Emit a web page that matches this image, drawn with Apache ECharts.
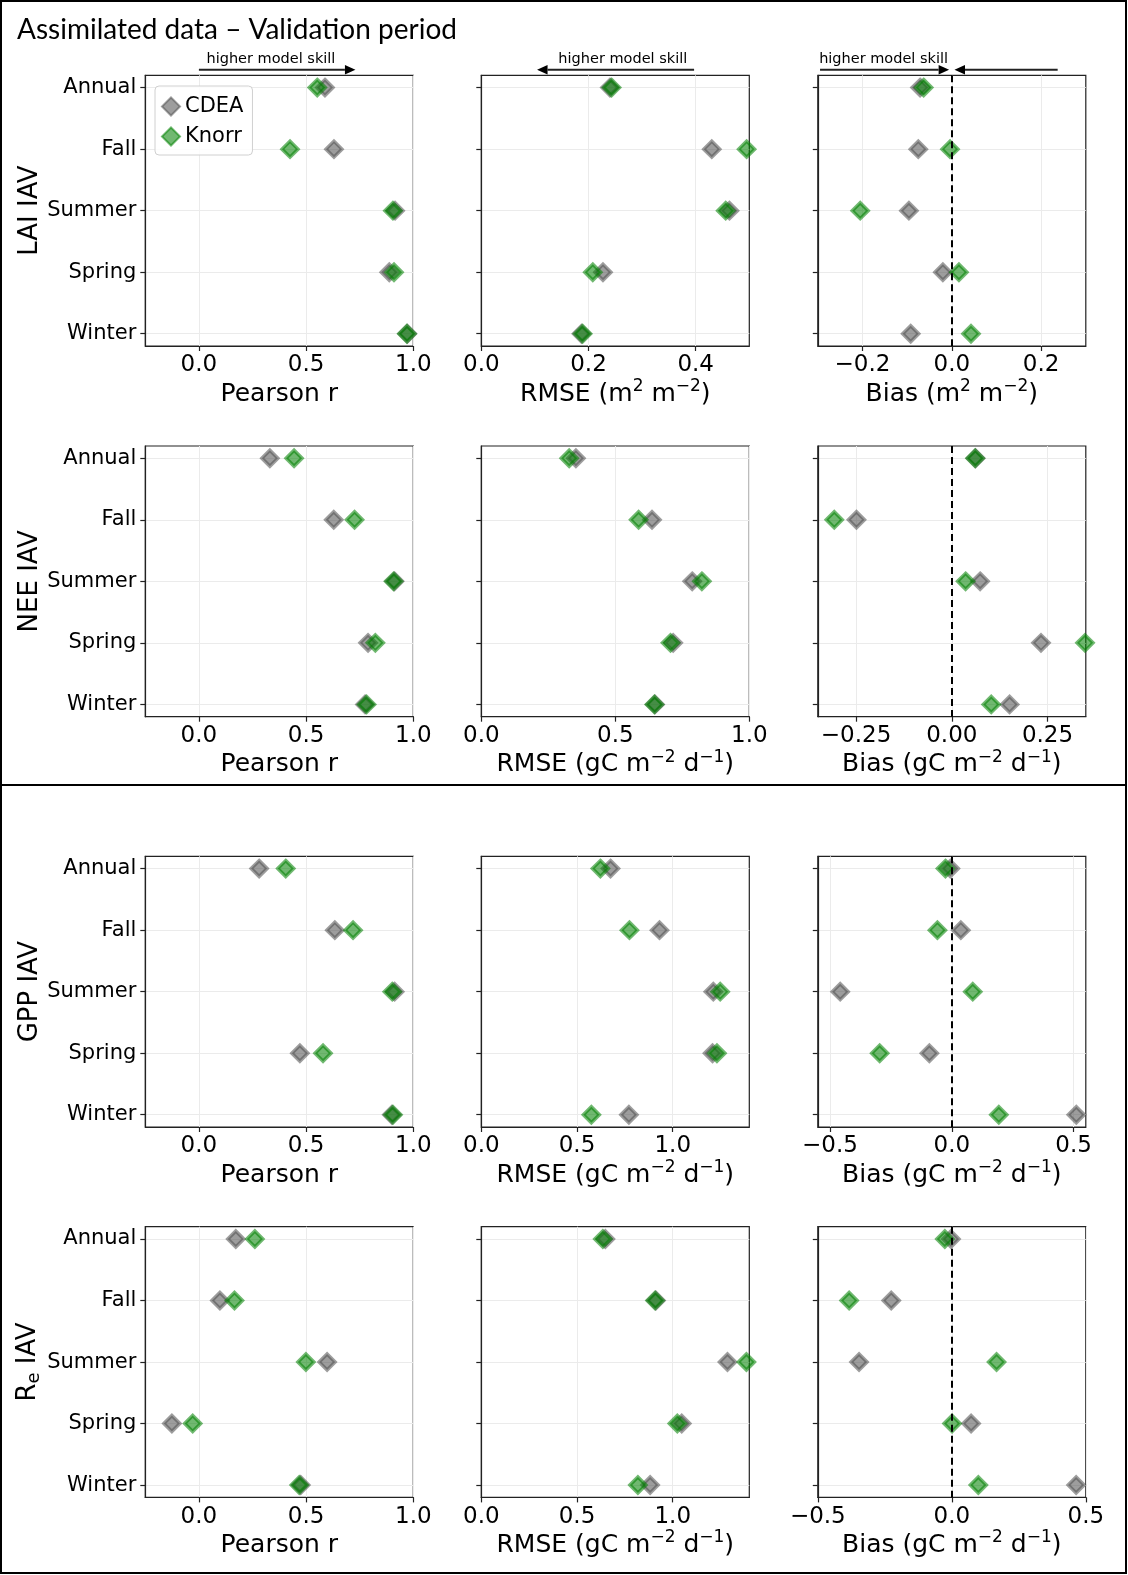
<!DOCTYPE html>
<html><head><meta charset="utf-8">
<script src="https://cdn.jsdelivr.net/npm/echarts@6/dist/echarts.min.js"></script>
<style>html,body{margin:0;padding:0;background:#fff}#c{width:1128px;height:1575px}</style>
</head><body><div id="c"></div>
<script>
// ---------------- DATA ----------------
const categories = ['Annual', 'Fall', 'Summer', 'Spring', 'Winter'];
const seriesNames = ['CDEA', 'Knorr'];
const rowNames = ['LAI IAV', 'NEE IAV', 'GPP IAV', 'R{sub|e} IAV'];

// LAI IAV
const laiPearsonCDEA  = [0.588, 0.630, 0.915, 0.888, 0.972];
const laiPearsonKnorr = [0.552, 0.425, 0.905, 0.910, 0.970];
const laiRmseCDEA     = [0.240, 0.430, 0.463, 0.227, 0.187];
const laiRmseKnorr    = [0.243, 0.495, 0.456, 0.208, 0.189];
const laiBiasCDEA     = [-0.071, -0.075, -0.096, -0.020, -0.092];
const laiBiasKnorr    = [-0.063, -0.004, -0.205, 0.016, 0.043];

// NEE IAV
const neePearsonCDEA  = [0.331, 0.629, 0.912, 0.789, 0.775];
const neePearsonKnorr = [0.444, 0.726, 0.908, 0.823, 0.782];
const neeRmseCDEA     = [0.353, 0.637, 0.787, 0.716, 0.648];
const neeRmseKnorr    = [0.328, 0.587, 0.823, 0.706, 0.646];
const neeBiasCDEA     = [0.062, -0.249, 0.074, 0.233, 0.151];
const neeBiasKnorr    = [0.061, -0.307, 0.036, 0.348, 0.103];

// GPP IAV
const gppPearsonCDEA  = [0.281, 0.634, 0.913, 0.471, 0.900];
const gppPearsonKnorr = [0.405, 0.719, 0.902, 0.579, 0.905];
const gppRmseCDEA     = [0.675, 0.931, 1.212, 1.208, 0.771];
const gppRmseKnorr    = [0.622, 0.774, 1.248, 1.231, 0.575];
const gppBiasCDEA     = [-0.006, 0.037, -0.458, -0.092, 0.511];
const gppBiasKnorr    = [-0.026, -0.059, 0.086, -0.296, 0.193];

// Re IAV
const rePearsonCDEA   = [0.172, 0.098, 0.598, -0.126, 0.475];
const rePearsonKnorr  = [0.261, 0.166, 0.499, -0.029, 0.468];
const reRmseCDEA      = [0.648, 0.912, 1.286, 1.047, 0.882];
const reRmseKnorr     = [0.635, 0.908, 1.385, 1.024, 0.818];
const reBiasCDEA      = [-0.003, -0.226, -0.346, 0.072, 0.464];
const reBiasKnorr     = [-0.026, -0.383, 0.167, 0.001, 0.099];

// axis ranges and tick labels
const pearsonRange = [-0.25, 1.0];
const pearsonTicks = [0, 0.5, 1.0];
const rmseRanges = [[0, 0.5], [0, 1.0], [0, 1.4], [0, 1.4]];
const rmseTicks  = [[0, 0.2, 0.4], [0, 0.5, 1.0], [0, 0.5, 1.0], [0, 0.5, 1.0]];
const biasRanges = [[-0.3, 0.3], [-0.35, 0.35], [-0.55, 0.55], [-0.5, 0.5]];
const biasTicks  = [[-0.2, 0, 0.2], [-0.25, 0, 0.25], [-0.5, 0, 0.5], [-0.5, 0, 0.5]];
const biasDecimals = [1, 2, 1, 1];
const laiUnit = 'm{sup|2} m{sup|\u22122}';
const carbonUnit = 'gC m{sup|\u22122} d{sup|\u22121}';

// ---------------- LAYOUT ----------------
const FONT = 'DejaVu Sans';
const colLefts = [145.3, 481.3, 817.8];
const rowTops = [75.3, 446, 856.3, 1226.7];
const GW = 268, GH = 270.7;
const cdeaColor = 'rgba(80,80,80,0.7)';
const knorrColor = 'rgba(0,128,0,0.7)';

const dataRows = [
  [[laiPearsonCDEA, laiPearsonKnorr], [laiRmseCDEA, laiRmseKnorr], [laiBiasCDEA, laiBiasKnorr]],
  [[neePearsonCDEA, neePearsonKnorr], [neeRmseCDEA, neeRmseKnorr], [neeBiasCDEA, neeBiasKnorr]],
  [[gppPearsonCDEA, gppPearsonKnorr], [gppRmseCDEA, gppRmseKnorr], [gppBiasCDEA, gppBiasKnorr]],
  [[rePearsonCDEA, rePearsonKnorr], [reRmseCDEA, reRmseKnorr], [reBiasCDEA, reBiasKnorr]]
];

function fmt(dec) {
  return function (v) {
    let s = Math.abs(v).toFixed(dec);
    return (v < -1e-9 ? '\u2212' : '') + s;
  };
}
const supRich = {
  sup: { fontSize: 17, fontFamily: FONT, color: '#000', verticalAlign: 'top', lineHeight: 17 }
};

const grids = [], xAxes = [], yAxes = [], series = [];
for (let r = 0; r < 4; r++) {
  for (let c = 0; c < 3; c++) {
    const g = r * 3 + c;
    grids.push({ left: colLefts[c], top: rowTops[r], width: GW, height: GH,
      show: true, borderColor: '#222', borderWidth: 1.2, backgroundColor: 'transparent' });
    let range, ticks, dec, name;
    if (c === 0) { range = pearsonRange; ticks = pearsonTicks; dec = 1; name = 'Pearson r'; }
    else if (c === 1) { range = rmseRanges[r]; ticks = rmseTicks[r]; dec = 1;
      name = 'RMSE (' + (r === 0 ? laiUnit : carbonUnit) + ')'; }
    else { range = biasRanges[r]; ticks = biasTicks[r]; dec = biasDecimals[r];
      name = 'Bias (' + (r === 0 ? laiUnit : carbonUnit) + ')'; }
    xAxes.push({
      gridIndex: g, type: 'value', min: range[0], max: range[1],
      axisLine: { show: true, onZero: false, lineStyle: { color: '#222', width: 1.2 } },
      axisTick: { show: true, length: 5, customValues: ticks, lineStyle: { color: '#222', width: 1.2 } },
      axisLabel: { customValues: ticks, formatter: fmt(dec), fontSize: 23, color: '#000', fontFamily: FONT, margin: 8 },
      splitLine: { show: true, lineStyle: { color: '#ebebeb', width: 1 } },
      name: name, nameLocation: 'middle', nameGap: 32,
      nameTextStyle: { fontSize: 25, lineHeight: 32, color: '#000', fontFamily: FONT, rich: supRich }
    });
    const yAx = {
      gridIndex: g, type: 'value', min: -0.2, max: 4.2, inverse: true,
      axisLine: { show: true, onZero: false, lineStyle: { color: '#222', width: 1.2 } },
      axisTick: { show: true, length: 5, customValues: [0, 1, 2, 3, 4], lineStyle: { color: '#222', width: 1.2 } },
      axisLabel: { show: c === 0, customValues: [0, 1, 2, 3, 4], formatter: v => categories[Math.round(v)],
        fontSize: 21, color: '#000', fontFamily: FONT, margin: 9, padding: [7, 0, 0, 0] },
      splitLine: { show: true, lineStyle: { color: '#ebebeb', width: 1 } }
    };
    if (c === 0) {
      Object.assign(yAx, { name: rowNames[r], nameLocation: 'middle', nameGap: 102, nameRotate: 90,
        nameTextStyle: { fontSize: 26, color: '#000', fontFamily: FONT,
          rich: { sub: { fontSize: 18, fontFamily: FONT, color: '#000', verticalAlign: 'bottom', lineHeight: 30 } } } });
    }
    yAxes.push(yAx);
    const pair = dataRows[r][c];
    [cdeaColor, knorrColor].forEach((col, k) => {
      series.push({
        type: 'scatter', name: seriesNames[k], xAxisIndex: g, yAxisIndex: g,
        data: pair[k].map((v, i) => [v, i]),
        symbol: 'diamond', symbolSize: 16, z: 3 + k,
        itemStyle: { color: col, borderColor: col, borderWidth: 3.5 },
        emphasis: { disabled: true }, animation: false
      });
    });
    if (c === 2) {
      series.push({
        type: 'scatter', xAxisIndex: g, yAxisIndex: g, data: [], z: 6, silent: true,
        markLine: { silent: true, symbol: 'none', animation: false,
          label: { show: false },
          lineStyle: { type: [7, 4], color: '#000', width: 2 },
          data: [{ xAxis: 0 }] }
      });
    }
  }
}

const chart = echarts.init(document.getElementById('c'), null, { renderer: 'canvas' });
chart.setOption({
  animation: false,
  backgroundColor: '#fff',
  title: { text: 'Assimilated data \u2013 Validation period', left: 12, top: 11,
    textStyle: { fontFamily: 'Lato', fontSize: 28, fontWeight: 'normal', color: '#000' } },
  legend: {
    data: seriesNames, orient: 'vertical', left: 155, top: 86,
    itemWidth: 18, itemHeight: 18, itemGap: 9, itemTextGap: 19,
    padding: [10, 9, 8, 6], borderColor: '#d0d0d0', borderWidth: 1, borderRadius: 4,
    backgroundColor: 'rgba(255,255,255,0.85)',
    textStyle: { fontSize: 21, color: '#000', fontFamily: FONT }, selectedMode: false
  },
  grid: grids, xAxis: xAxes, yAxis: yAxes, series: series
});

// annotations: frames and "higher model skill" arrows (positions via axis scales)
const arrowSpecs = [
  { axis: 0, text: 0.336, align: 'center', arrows: [[0, 0.73]] },
  { axis: 1, text: 0.264, align: 'center', arrows: [[0.397, 0.104]] },
  { axis: 2, text: -0.297, align: 'left', arrows: [[-0.295, -0.006], [0.237, 0.006]] }
];
const graphics = [
  { type: 'rect', shape: { x: 1, y: 1, width: 1125, height: 784 }, style: { fill: 'none', stroke: '#000', lineWidth: 2 }, z: 100 },
  { type: 'rect', shape: { x: 1, y: 785, width: 1125, height: 788 }, style: { fill: 'none', stroke: '#000', lineWidth: 2 }, z: 100 }
];
const lineY = rowTops[0] - 5.5, textY = rowTops[0] - 16;
arrowSpecs.forEach(sp => {
  const px = v => chart.convertToPixel({ xAxisIndex: sp.axis }, v);
  graphics.push({ type: 'text', x: px(sp.text), y: textY, z: 100,
    style: { text: 'higher model skill', fontFamily: FONT, fontSize: 14.5, fill: '#000',
      textAlign: sp.align, textVerticalAlign: 'middle' } });
  sp.arrows.forEach(a => {
    const x0 = px(a[0]), x1 = px(a[1]);
    const dir = x1 > x0 ? 1 : -1;
    const base = x1 - dir * 10.5;
    graphics.push({ type: 'line', z: 100, shape: { x1: x0, y1: lineY, x2: base, y2: lineY },
      style: { stroke: '#222', lineWidth: 2 } });
    graphics.push({ type: 'polygon', z: 100, shape: { points: [[x1, lineY], [base, lineY - 4.8], [base, lineY + 4.8]] },
      style: { fill: '#000' } });
  });
});
chart.setOption({ graphic: graphics });
</script>
</body></html>
